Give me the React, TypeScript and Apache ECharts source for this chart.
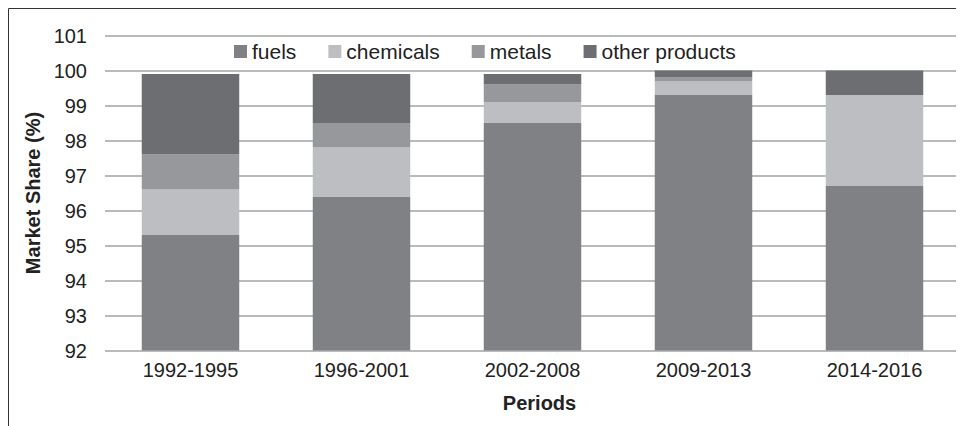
import React, { useEffect, useRef } from "react";
import * as echarts from "echarts";

const periods = ["1992-1995", "1996-2001", "2002-2008", "2009-2013", "2014-2016"];
// fuels: top of bottom segment; others: segment heights
const fuels = [95.3, 96.4, 98.5, 99.3, 96.7];
const chemicals = [1.3, 1.4, 0.6, 0.4, 2.6];
const metals = [1.0, 0.7, 0.5, 0.1, 0.0];
const otherProducts = [2.3, 1.4, 0.3, 0.2, 0.7];
const seriesNames = ["fuels", "chemicals", "metals", "other products"];
const seriesColors = ["#808184", "#bdbec1", "#97989b", "#6d6e71"];
const yTicks = { min: 92, max: 101, interval: 1 };

export default function App() {
  const ref = useRef<HTMLDivElement>(null);
  useEffect(() => {
    if (!ref.current) return;
    const chart = echarts.init(ref.current, undefined, { renderer: "svg" });
    const font = "'Liberation Sans', Arial, sans-serif";
    const dataSets = [fuels, chemicals, metals, otherProducts];
    chart.setOption({
      animation: false,
      textStyle: { fontFamily: font },
      graphic: [
        {
          type: "line",
          shape: { x1: 0.5, y1: 0.5, x2: 0.5, y2: 418 },
          style: { stroke: "#333", lineWidth: 1 },
          silent: true,
        },
        {
          type: "line",
          shape: { x1: 0.5, y1: 0.5, x2: 956, y2: 0.5 },
          style: { stroke: "#333", lineWidth: 1 },
          silent: true,
        },
      ],
      legend: {
        left: 221,
        top: 28,
        itemWidth: 13,
        itemHeight: 13,
        itemGap: 32,
        icon: "rect",
        textStyle: { fontSize: 21, color: "#222", fontFamily: font },
        data: seriesNames,
      },
      grid: { left: 97, right: 4, top: 27.5, bottom: 75.5, containLabel: false },
      xAxis: {
        type: "category",
        data: periods,
        axisLine: { show: false },
        axisTick: { show: false },
        axisLabel: { fontSize: 20, color: "#222", margin: 9, fontFamily: font },
        name: "Periods",
        nameLocation: "middle",
        nameGap: 42,
        nameTextStyle: { fontSize: 20, fontWeight: "bold", color: "#222", fontFamily: font, padding: [0, 0, 0, 14] },
      },
      yAxis: {
        type: "value",
        min: yTicks.min,
        max: yTicks.max,
        interval: yTicks.interval,
        axisLine: { show: false },
        axisTick: { show: false },
        axisLabel: { fontSize: 20, color: "#222", margin: 18, fontFamily: font },
        splitLine: { lineStyle: { color: "#a3a3a3", width: 1.6 } },
        name: "Market Share (%)",
        nameLocation: "middle",
        nameGap: 62,
        nameTextStyle: { fontSize: 20, fontWeight: "bold", color: "#222", fontFamily: font },
      },
      series: seriesNames.map((name, i) => ({
        name,
        type: "bar",
        stack: "total",
        barWidth: "57%",
        clip: true,
        itemStyle: { color: seriesColors[i] },
        data: dataSets[i],
      })),
    });
    return () => chart.dispose();
  }, []);
  return <div ref={ref} style={{ width: 956, height: 418 }} />;
}
